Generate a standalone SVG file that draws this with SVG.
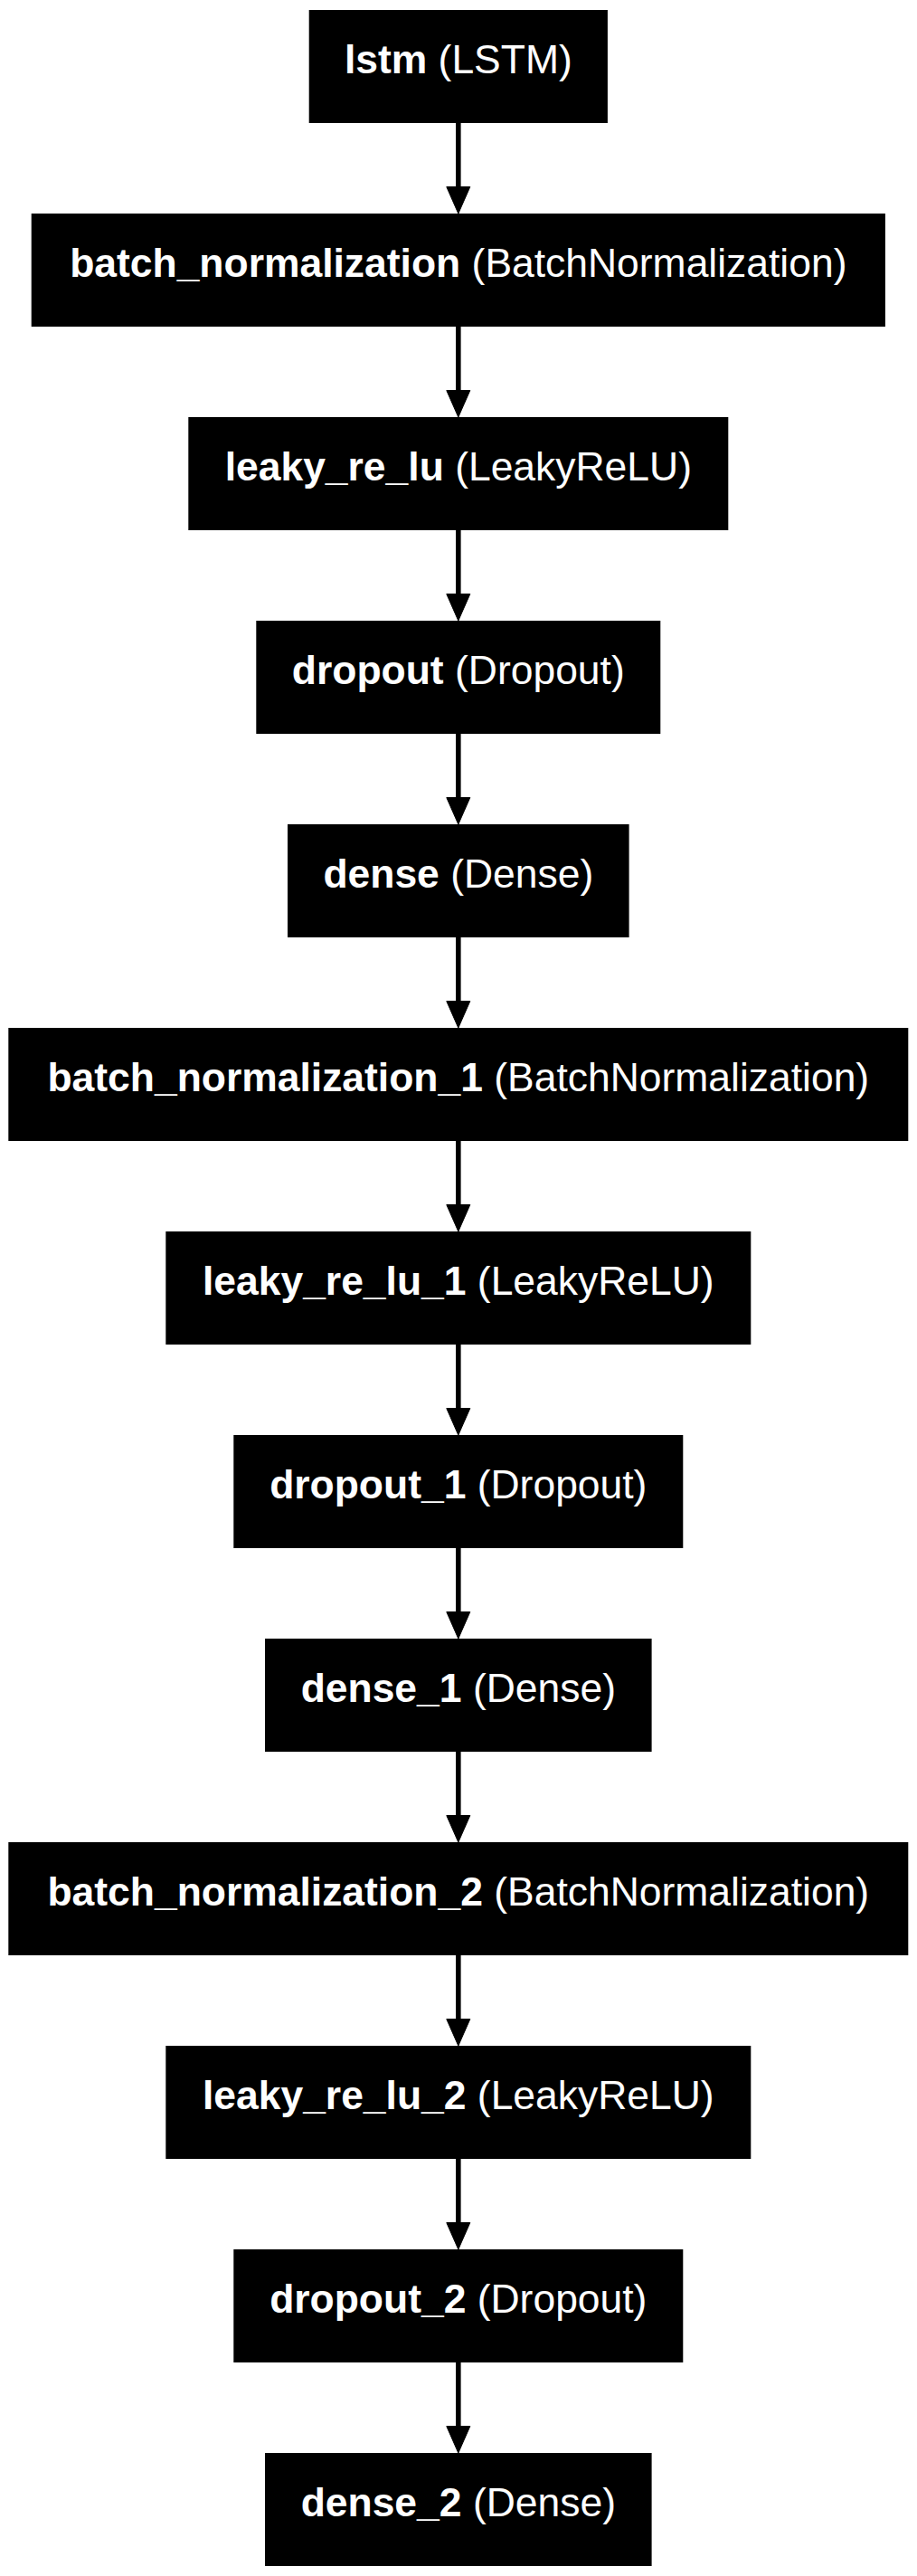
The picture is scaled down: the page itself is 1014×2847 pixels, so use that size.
<svg xmlns="http://www.w3.org/2000/svg" width="1014" height="2847" viewBox="0 0 1014 2847">
<style>
.box{fill:#000;stroke:none}
.lbl{font-family:"Liberation Sans",Arial,Helvetica,sans-serif;font-size:44.44px;fill:#fff;text-anchor:middle}
.b{font-weight:bold}
.edge{stroke:#000;stroke-width:5.6;fill:none}
.head{fill:#000;stroke:#000;stroke-width:1}
</style>
<defs>
<g id="arrow">
<line class="edge" x1="506.8" y1="0" x2="506.8" y2="72"/>
<polygon class="head" points="493.8,70.5 519.8,70.5 506.8,100"/>
</g>
</defs>
<rect width="1014" height="2847" fill="#fff"/>
<g id="connectors">
<use href="#arrow" y="136"/>
<use href="#arrow" y="361"/>
<use href="#arrow" y="586"/>
<use href="#arrow" y="811"/>
<use href="#arrow" y="1036"/>
<use href="#arrow" y="1261"/>
<use href="#arrow" y="1486"/>
<use href="#arrow" y="1711"/>
<use href="#arrow" y="1936"/>
<use href="#arrow" y="2161"/>
<use href="#arrow" y="2386"/>
<use href="#arrow" y="2611"/>
</g>
<g id="lstm"><rect class="box" x="341.7" y="11" width="330.2" height="125"/><text class="lbl" x="506.8" y="81"><tspan class="b">lstm </tspan>(LSTM)</text></g>
<g id="batch_normalization"><rect class="box" x="34.7" y="236" width="944.2" height="125"/><text class="lbl" x="506.8" y="306"><tspan class="b">batch_normalization </tspan>(BatchNormalization)</text></g>
<g id="leaky_re_lu"><rect class="box" x="208.3" y="461" width="597" height="125"/><text class="lbl" x="506.8" y="531"><tspan class="b">leaky_re_lu </tspan>(LeakyReLU)</text></g>
<g id="dropout"><rect class="box" x="283.3" y="686" width="447" height="125"/><text class="lbl" x="506.8" y="756"><tspan class="b">dropout </tspan>(Dropout)</text></g>
<g id="dense"><rect class="box" x="318" y="911" width="377.6" height="125"/><text class="lbl" x="506.8" y="981"><tspan class="b">dense </tspan>(Dense)</text></g>
<g id="batch_normalization_1"><rect class="box" x="9.3" y="1136" width="995" height="125"/><text class="lbl" x="506.8" y="1206"><tspan class="b">batch_normalization_1 </tspan>(BatchNormalization)</text></g>
<g id="leaky_re_lu_1"><rect class="box" x="183.3" y="1361" width="647" height="125"/><text class="lbl" x="506.8" y="1431"><tspan class="b">leaky_re_lu_1 </tspan>(LeakyReLU)</text></g>
<g id="dropout_1"><rect class="box" x="258.3" y="1586" width="497" height="125"/><text class="lbl" x="506.8" y="1656"><tspan class="b">dropout_1 </tspan>(Dropout)</text></g>
<g id="dense_1"><rect class="box" x="293" y="1811" width="427.6" height="125"/><text class="lbl" x="506.8" y="1881"><tspan class="b">dense_1 </tspan>(Dense)</text></g>
<g id="batch_normalization_2"><rect class="box" x="9.3" y="2036" width="995" height="125"/><text class="lbl" x="506.8" y="2106"><tspan class="b">batch_normalization_2 </tspan>(BatchNormalization)</text></g>
<g id="leaky_re_lu_2"><rect class="box" x="183.3" y="2261" width="647" height="125"/><text class="lbl" x="506.8" y="2331"><tspan class="b">leaky_re_lu_2 </tspan>(LeakyReLU)</text></g>
<g id="dropout_2"><rect class="box" x="258.3" y="2486" width="497" height="125"/><text class="lbl" x="506.8" y="2556"><tspan class="b">dropout_2 </tspan>(Dropout)</text></g>
<g id="dense_2"><rect class="box" x="293" y="2711" width="427.6" height="125"/><text class="lbl" x="506.8" y="2781"><tspan class="b">dense_2 </tspan>(Dense)</text></g>
</svg>
